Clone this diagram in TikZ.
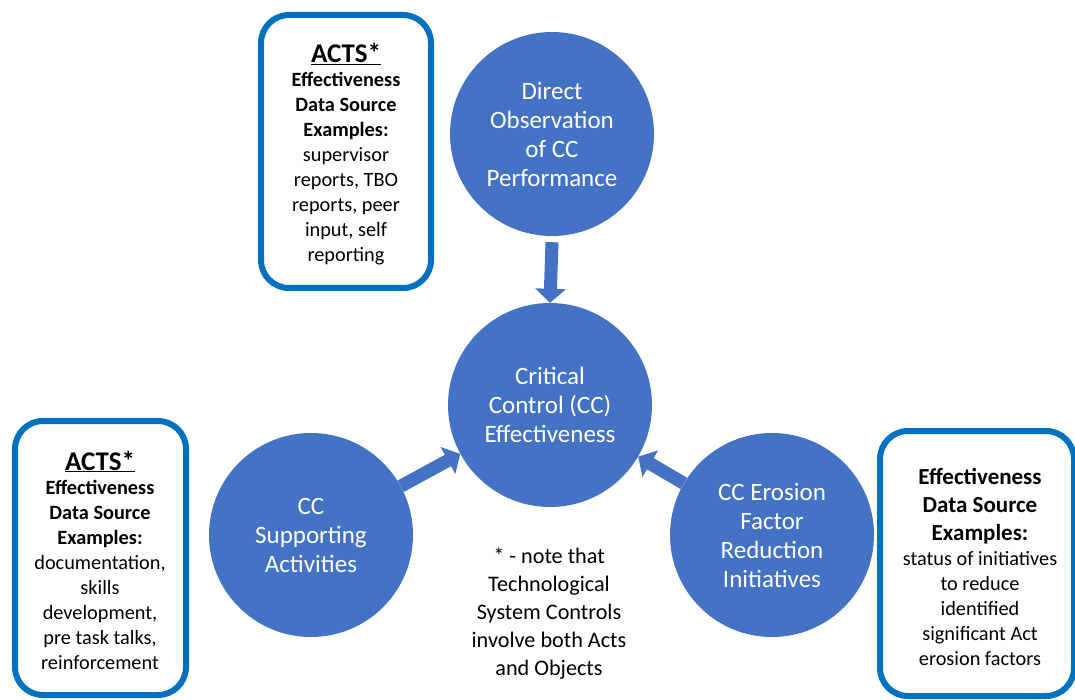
\documentclass[tikz,border=0pt]{standalone}
\usepackage{fontspec}
\setmainfont{Carlito}
\usetikzlibrary{arrows.meta}
\definecolor{cfill}{HTML}{4472C4}
\definecolor{cedge}{HTML}{2F528F}
\definecolor{cbox}{HTML}{0070C0}
\newcommand{\hdb}[1]{{\fontsize{23}{28}\selectfont\bfseries #1}}
\newcommand{\acts}{{\fontsize{27}{30}\selectfont\bfseries\underline{ACTS*}}}
\begin{document}
\begin{tikzpicture}[x=1pt,y=-1pt,
  circ/.style={circle,fill=cfill,minimum size=204pt,inner sep=0pt,text=white,align=center,
    font=\fontsize{25}{29}\selectfont},
  boxframe/.style={draw=cbox,line width=6pt,rounded corners=28pt,fill=white},
  boxtext/.style={align=center,text=black,font=\fontsize{20.3}{25}\selectfont,inner sep=0pt},
  fatarrow/.style={draw=cedge,line width=13pt,cfill,
    -{Triangle[width=30pt,length=14pt,fill=cfill]}},
]
\useasboundingbox (0,0) rectangle (1075,700);
\clip (0,0) rectangle (1075,700);
% boxes
\draw[boxframe] (261,15) rectangle (431,288);
\node[boxtext] (tbt) at (346,154) {\acts\\[-1pt]
  \textbf{Effectiveness}\\ \textbf{Data Source}\\ \textbf{Examples:}\\
  supervisor\\ reports, TBO\\ reports, peer\\ input, self\\ reporting};
\draw[boxframe] (15,421) rectangle (186,695);
\node[boxtext] (lbt) at (100,560) {\acts\\[-1pt]
  \textbf{Effectiveness}\\ \textbf{Data Source}\\ \textbf{Examples:}\\
  documentation,\\ skills\\ development,\\ pre task talks,\\ reinforcement};
\draw[boxframe] (880,431) rectangle (1074,696);
\node[boxtext] (rbt) at (980,567) {\hdb{Effectiveness}\\[3pt] \hdb{Data Source}\\[3pt] \hdb{Examples:}\\
  status of initiatives\\ to reduce\\ identified\\ significant Act\\ erosion factors};
% circles
\node[circ] (top) at (552,134) {Direct\\ Observation\\ of CC\\ Performance};
\node[circ] (ctr) at (550,405) {Critical\\ Control (CC)\\ Effectiveness};
\node[circ] (lft) at (311,535) {CC\\ Supporting\\ Activities};
\node[circ] (rgt) at (772,535) {CC Erosion\\ Factor\\ Reduction\\ Initiatives};
% note
\node[align=center,font=\fontsize{22.2}{28}\selectfont,inner sep=0pt] (note) at (549,614)
  {* - note that\\ Technological\\ System Controls\\ involve both Acts\\ and Objects};
% arrows
\draw[fatarrow] ([yshift=-6pt]top.south) -- (ctr.north);
\draw[fatarrow] (lft) -- (ctr);
\draw[fatarrow] (rgt) -- (ctr);
\end{tikzpicture}
\end{document}
